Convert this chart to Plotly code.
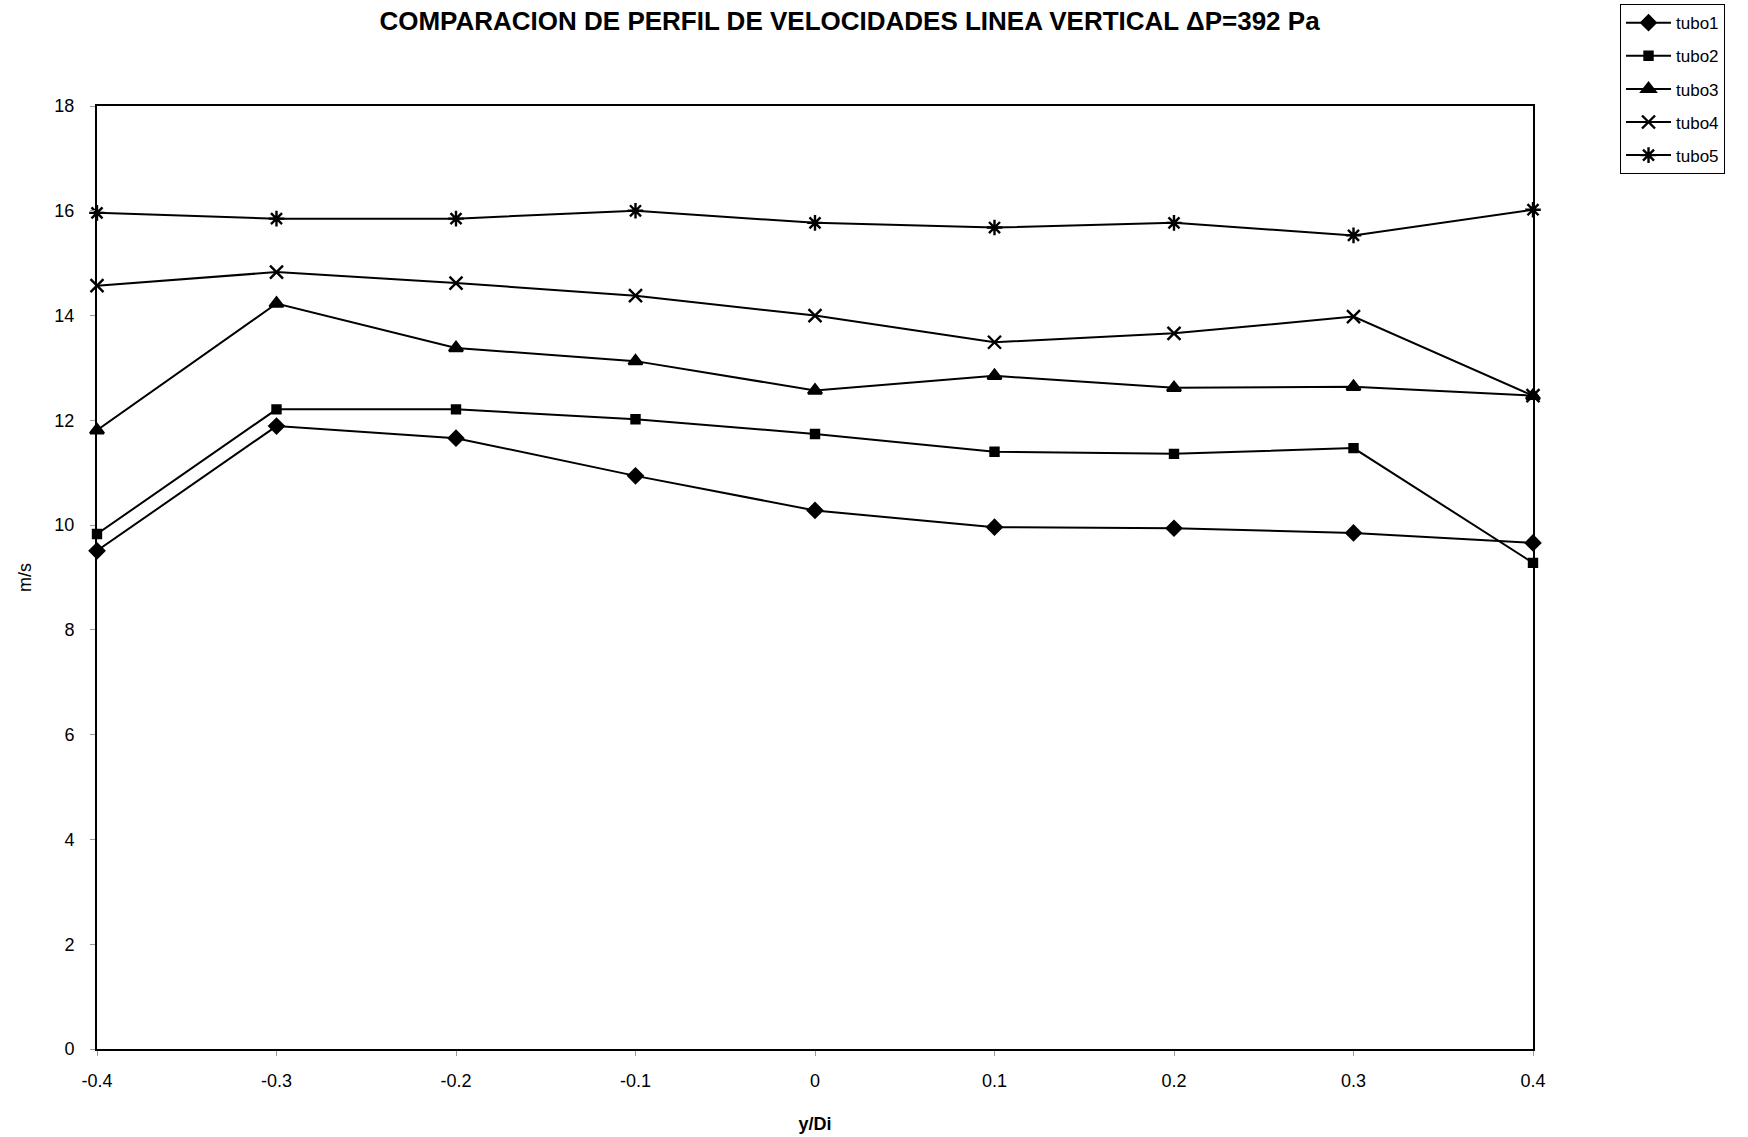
import plotly.graph_objects as go

x_vals = [-0.4, -0.3, -0.2, -0.1, 0.0, 0.1, 0.2, 0.3, 0.4]
tubo1 = [9.51, 11.89, 11.66, 10.94, 10.28, 9.96, 9.94, 9.85, 9.66]
tubo2 = [9.83, 12.21, 12.21, 12.02, 11.74, 11.40, 11.36, 11.47, 9.28]
tubo3 = [11.81, 14.23, 13.38, 13.13, 12.57, 12.85, 12.62, 12.64, 12.47]
tubo4 = [14.57, 14.83, 14.62, 14.38, 14.00, 13.49, 13.66, 13.98, 12.47]
tubo5 = [15.96, 15.85, 15.85, 16.00, 15.77, 15.68, 15.77, 15.53, 16.02]

names = ["tubo1", "tubo2", "tubo3", "tubo4", "tubo5"]
series = [tubo1, tubo2, tubo3, tubo4, tubo5]
symbols = ["diamond", "square", "triangle-up", "x-thin-open", "asterisk-open"]
sizes = [11, 8, 12, 13, 13]

x_ticks = [-0.4, -0.3, -0.2, -0.1, 0, 0.1, 0.2, 0.3, 0.4]
x_ticklabels = ["-0.4", "-0.3", "-0.2", "-0.1", "0", "0.1", "0.2", "0.3", "0.4"]
y_ticks = [0, 2, 4, 6, 8, 10, 12, 14, 16, 18]

fig = go.Figure()
for name, ys, sym, sz in zip(names, series, symbols, sizes):
    fig.add_trace(go.Scatter(
        x=x_vals, y=ys, name=name, legendgroup=name, mode="lines+markers",
        line=dict(color="black", width=2),
        marker=dict(symbol=sym, size=sz, color="black",
                    line=dict(color="black", width=2.4)),
        cliponaxis=False,
    ))

font_family = "Liberation Sans, Arial, sans-serif"
fig.update_layout(
    width=1748, height=1137,
    margin=dict(l=97, r=215, t=106, b=88, autoexpand=False),
    paper_bgcolor="white", plot_bgcolor="white",
    font=dict(family=font_family, color="black", size=18),
    title=dict(text="<b>COMPARACION DE PERFIL DE VELOCIDADES LINEA VERTICAL ΔP=392 Pa</b>",
               x=0.486, xanchor="center", y=0.982, yanchor="middle",
               font=dict(size=26, family=font_family)),
    showlegend=True,
    legend=dict(x=1.0606, y=1.108, xanchor="left", yanchor="top",
                bordercolor="black", borderwidth=1, bgcolor="white",
                font=dict(size=17, family=font_family),
                itemwidth=45, tracegroupgap=8),
    xaxis=dict(range=[-0.4, 0.4], tickvals=x_ticks, ticktext=x_ticklabels,
               showgrid=False, zeroline=False, showline=True, linecolor="black",
               linewidth=2, mirror=True, ticks="outside", ticklen=5,
               tickcolor="#999", tickfont=dict(size=18), ticklabelstandoff=9,
               title=dict(text="<b>y/Di</b>", font=dict(size=18), standoff=28)),
    yaxis=dict(range=[0, 18], tickvals=y_ticks,
               showgrid=False, zeroline=False, showline=True, linecolor="black",
               linewidth=2, mirror=True, ticks="outside", ticklen=5,
               tickcolor="#999", tickfont=dict(size=18), ticklabelstandoff=12,
               title=dict(text="m/s", font=dict(size=18), standoff=18)),
)

fig.write_html("out.html")
